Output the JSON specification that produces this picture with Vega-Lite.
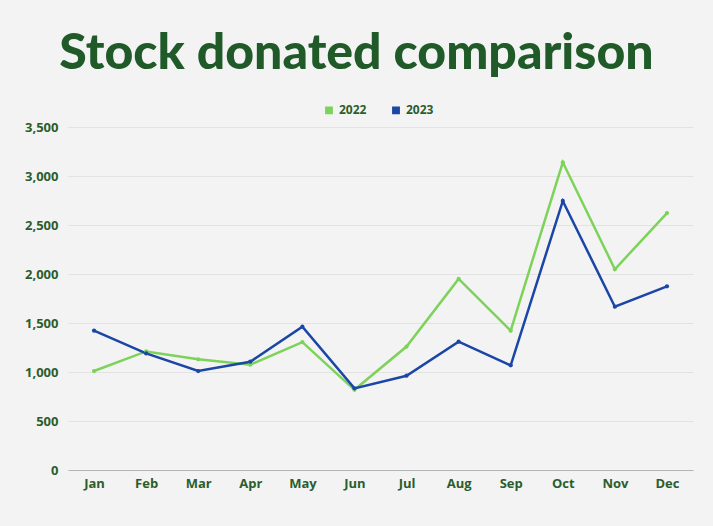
{
  "$schema": "https://vega.github.io/schema/vega-lite/v6.json",
  "autosize": {"type": "none"},
  "width": 625,
  "height": 343,
  "padding": {"left": 68, "top": 127, "right": 20, "bottom": 56},
  "background": "#f3f3f3",
  "title": {
    "text": "Stock donated comparison",
    "font": "Lato",
    "fontWeight": 900,
    "fontSize": 50,
    "color": "#1f5a28",
    "anchor": "middle",
    "frame": "group",
    "baseline": "alphabetic",
    "offset": 33,
    "dy": 48,
    "dx": -24
  },
  "data": {
    "values": [
      {"month": "Jan", "year": "2022", "value": 1010},
      {"month": "Feb", "year": "2022", "value": 1210},
      {"month": "Mar", "year": "2022", "value": 1130},
      {"month": "Apr", "year": "2022", "value": 1075},
      {"month": "May", "year": "2022", "value": 1305},
      {"month": "Jun", "year": "2022", "value": 818},
      {"month": "Jul", "year": "2022", "value": 1260},
      {"month": "Aug", "year": "2022", "value": 1950},
      {"month": "Sep", "year": "2022", "value": 1422},
      {"month": "Oct", "year": "2022", "value": 3140},
      {"month": "Nov", "year": "2022", "value": 2048},
      {"month": "Dec", "year": "2022", "value": 2622},
      {"month": "Jan", "year": "2023", "value": 1422},
      {"month": "Feb", "year": "2023", "value": 1190},
      {"month": "Mar", "year": "2023", "value": 1010},
      {"month": "Apr", "year": "2023", "value": 1105},
      {"month": "May", "year": "2023", "value": 1462},
      {"month": "Jun", "year": "2023", "value": 833},
      {"month": "Jul", "year": "2023", "value": 962},
      {"month": "Aug", "year": "2023", "value": 1309},
      {"month": "Sep", "year": "2023", "value": 1068},
      {"month": "Oct", "year": "2023", "value": 2745},
      {"month": "Nov", "year": "2023", "value": 1666},
      {"month": "Dec", "year": "2023", "value": 1874}
    ]
  },
  "config": {
    "view": {"stroke": null},
    "axis": {
      "labelFont": "Open Sans",
      "labelFontWeight": "bold",
      "labelFontSize": 13,
      "labelColor": "#2b5d2c",
      "title": null
    }
  },
  "encoding": {
    "x": {
      "field": "month",
      "type": "ordinal",
      "sort": ["Jan","Feb","Mar","Apr","May","Jun","Jul","Aug","Sep","Oct","Nov","Dec"],
      "scale": {"type": "point", "padding": 0.5},
      "axis": {"labelAngle": 0, "ticks": false, "domainColor": "#b5b5b5", "labelPadding": 7, "grid": false}
    },
    "y": {
      "field": "value",
      "type": "quantitative",
      "scale": {"domain": [0, 3500]},
      "axis": {"values": [0,500,1000,1500,2000,2500,3000,3500], "format": ",.0f", "domain": false, "ticks": false, "labelPadding": 10, "gridColor": "#e2e2e2"}
    },
    "color": {
      "field": "year",
      "type": "nominal",
      "scale": {"domain": ["2022", "2023"], "range": ["#7dd35a", "#1b46a6"]},
      "legend": {
        "title": null,
        "orient": "none",
        "direction": "horizontal",
        "legendX": 255,
        "legendY": -23,
        "symbolType": "square",
        "symbolSize": 40,
        "labelFont": "Open Sans",
        "labelFontWeight": "bold",
        "labelFontSize": 12,
        "labelColor": "#2b5d2c",
        "columnPadding": 22
      }
    }
  },
  "layer": [
    {"mark": {"type": "line", "strokeWidth": 2.5}},
    {"mark": {"type": "point", "filled": true, "size": 18, "opacity": 1}}
  ]
}
